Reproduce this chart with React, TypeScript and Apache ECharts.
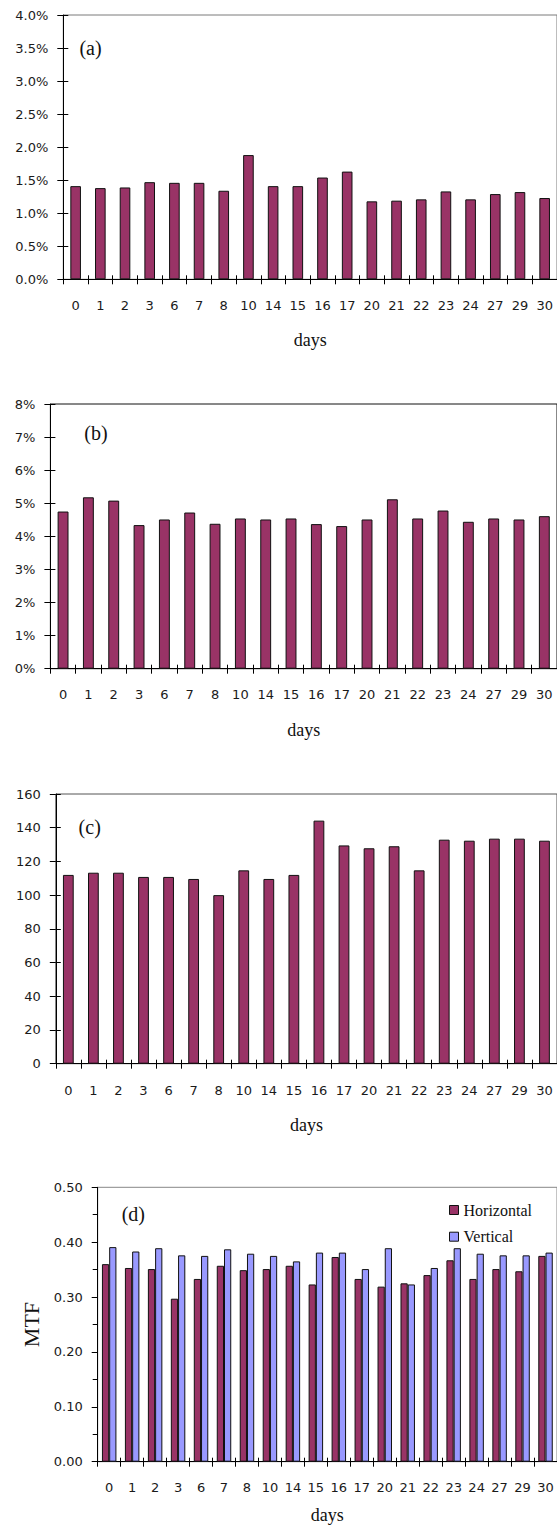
import React, { useEffect, useRef } from "react";
import * as echarts from "echarts";

// Measurement days shared by all four panels
const days = ["0", "1", "2", "3", "6", "7", "8", "10", "14", "15", "16", "17", "20", "21", "22", "23", "24", "27", "29", "30"];

// (a) values in percent
const panelAValues = [1.41, 1.38, 1.39, 1.47, 1.46, 1.46, 1.34, 1.88, 1.41, 1.41, 1.54, 1.63, 1.18, 1.19, 1.21, 1.33, 1.21, 1.29, 1.32, 1.23];
// (b) values in percent
const panelBValues = [4.75, 5.18, 5.08, 4.34, 4.51, 4.72, 4.38, 4.54, 4.51, 4.54, 4.37, 4.31, 4.51, 5.12, 4.54, 4.78, 4.44, 4.54, 4.51, 4.61];
// (c) values
const panelCValues = [112, 113.3, 113.3, 110.8, 110.8, 109.6, 100, 114.7, 109.6, 112, 144.2, 129.5, 127.8, 129, 114.7, 132.9, 132.3, 133.5, 133.5, 132.3];
// (d) MTF in both directions
const mtfHorizontal = [0.36, 0.353, 0.351, 0.297, 0.333, 0.357, 0.349, 0.351, 0.357, 0.323, 0.373, 0.333, 0.319, 0.325, 0.34, 0.367, 0.333, 0.351, 0.347, 0.375];
const mtfVertical = [0.391, 0.383, 0.389, 0.376, 0.375, 0.387, 0.379, 0.375, 0.365, 0.381, 0.381, 0.351, 0.389, 0.323, 0.353, 0.389, 0.379, 0.376, 0.376, 0.381];

const panelTags = ["(a)", "(b)", "(c)", "(d)"];
const seriesNames = ["Horizontal", "Vertical"];

const SANS = "'DejaVu Sans', sans-serif";
const SERIF = "'Liberation Serif', 'Times New Roman', serif";
const PLUM = "#993366";
const LAVENDER = "#9999ff";

type Panel = {
  left: number;
  top: number;
  width: number;
  height: number;
  max: number;
  interval: number;
  fmt: (v: number) => string;
  labelMargin: number;
  nameGap: number;
  frame: string;
  minor: boolean;
  yName?: string;
  tagX: number;
  tagY: number;
};

const panels: Panel[] = [
  { left: 63.3, top: 15, width: 495.7, height: 264.3, max: 4, interval: 0.5, fmt: (v) => v.toFixed(1) + "%", labelMargin: 19.5, nameGap: 52, frame: "#7a7a7a", minor: false, tagX: 90.5, tagY: 48 },
  { left: 50.4, top: 404, width: 509.6, height: 264.7, max: 8, interval: 1, fmt: (v) => v + "%", labelMargin: 19, nameGap: 52, frame: "#111", minor: false, tagX: 96, tagY: 432.5 },
  { left: 55.8, top: 794, width: 506, height: 269.7, max: 160, interval: 20, fmt: (v) => String(v), labelMargin: 20.5, nameGap: 52, frame: "#555", minor: false, tagX: 89.7, tagY: 826.7 },
  { left: 97.7, top: 1187.3, width: 461.4, height: 274.4, max: 0.5, interval: 0.1, fmt: (v) => v.toFixed(2), labelMargin: 19, nameGap: 44, frame: "#888", minor: true, yName: "MTF", tagX: 133.3, tagY: 1214 },
];

function buildOption() {
  const grid: any[] = [];
  const xAxis: any[] = [];
  const yAxis: any[] = [];
  const graphic: any[] = [];

  panels.forEach((p, i) => {
    grid.push({
      left: p.left,
      top: p.top,
      width: p.width,
      height: p.height,
      show: true,
      borderColor: p.frame,
      borderWidth: 1,
      backgroundColor: "transparent",
    });
    // main category axis: line, outward ticks, labels and the "days" title
    xAxis.push({
      type: "category",
      gridIndex: i,
      data: days,
      position: "bottom",
      axisLine: { show: true, lineStyle: { color: "#000", width: 1 } },
      axisTick: { show: true, inside: false, length: 5, lineStyle: { color: "#000" } },
      axisLabel: { margin: p.labelMargin, fontFamily: SANS, fontSize: 13, color: "#1a1a1a" },
      splitLine: { show: false },
      name: "days",
      nameLocation: "middle",
      nameGap: p.nameGap,
      nameTextStyle: { fontFamily: SERIF, fontSize: 18, color: "#111" },
    });
    // companion axis giving the ticks their upward half so they cross the line
    xAxis.push({
      type: "category",
      gridIndex: i,
      data: days,
      position: "bottom",
      axisLine: { show: false },
      axisTick: { show: true, inside: true, length: 4, lineStyle: { color: "#000" } },
      axisLabel: { show: false },
      splitLine: { show: false },
    });
    yAxis.push({
      type: "value",
      gridIndex: i,
      min: 0,
      max: p.max,
      interval: p.interval,
      position: "left",
      axisLine: { show: true, lineStyle: { color: "#000", width: 1 } },
      axisTick: { show: true, inside: false, length: 6, lineStyle: { color: "#000" } },
      minorTick: p.minor ? { show: true, splitNumber: 2, length: 5, lineStyle: { color: "#000" } } : { show: false },
      axisLabel: { margin: 15, fontFamily: SANS, fontSize: 13, color: "#1a1a1a", formatter: p.fmt },
      splitLine: { show: false },
      minorSplitLine: { show: false },
      name: p.yName ?? "",
      nameLocation: "middle",
      nameRotate: 90,
      nameGap: 52,
      nameTextStyle: { fontFamily: SERIF, fontSize: 22, color: "#111" },
    });
    yAxis.push({
      type: "value",
      gridIndex: i,
      min: 0,
      max: p.max,
      interval: p.interval,
      position: "left",
      axisLine: { show: false },
      axisTick: { show: !p.minor, inside: true, length: 5, lineStyle: { color: "#000" } },
      axisLabel: { show: false },
      splitLine: { show: false },
    });
    graphic.push({
      type: "text",
      left: undefined,
      x: p.tagX,
      y: p.tagY,
      style: {
        text: panelTags[i],
        fontFamily: SERIF,
        fontSize: 20,
        fill: "#111",
        textAlign: "center",
        textVerticalAlign: "middle",
      },
    });
  });

  const barStyle = (color: string) => ({ color, borderColor: "#111", borderWidth: 1 });

  const series: any[] = [
    { type: "bar", name: "a", xAxisIndex: 0, yAxisIndex: 0, data: panelAValues, barWidth: "43%", itemStyle: barStyle(PLUM) },
    { type: "bar", name: "b", xAxisIndex: 2, yAxisIndex: 2, data: panelBValues, barWidth: "43%", itemStyle: barStyle(PLUM) },
    { type: "bar", name: "c", xAxisIndex: 4, yAxisIndex: 4, data: panelCValues, barWidth: "43%", itemStyle: barStyle(PLUM) },
    { type: "bar", name: seriesNames[0], xAxisIndex: 6, yAxisIndex: 6, data: mtfHorizontal, barGap: "0%", barCategoryGap: "37%", itemStyle: barStyle(PLUM) },
    { type: "bar", name: seriesNames[1], xAxisIndex: 6, yAxisIndex: 6, data: mtfVertical, barGap: "0%", barCategoryGap: "37%", itemStyle: barStyle(LAVENDER) },
  ];

  return {
    animation: false,
    backgroundColor: "#ffffff",
    grid,
    xAxis,
    yAxis,
    series,
    graphic,
    legend: {
      data: seriesNames,
      orient: "vertical",
      left: 444,
      top: 1197,
      itemWidth: 9,
      itemHeight: 9,
      itemGap: 10.7,
      icon: "rect",
      itemStyle: { borderColor: "#111", borderWidth: 1 },
      textStyle: { fontFamily: SERIF, fontSize: 16, color: "#111", lineHeight: 16 },
      selectedMode: false,
    },
  };
}

export default function App() {
  const ref = useRef<HTMLDivElement | null>(null);

  useEffect(() => {
    if (!ref.current) return;
    const chart = echarts.init(ref.current, undefined, { renderer: "svg" });
    chart.setOption(buildOption() as any);
    return () => chart.dispose();
  }, []);

  return (
    <div
      ref={ref}
      style={{ position: "absolute", left: 0, top: 0, width: 557, height: 1529, background: "#fff" }}
    />
  );
}
